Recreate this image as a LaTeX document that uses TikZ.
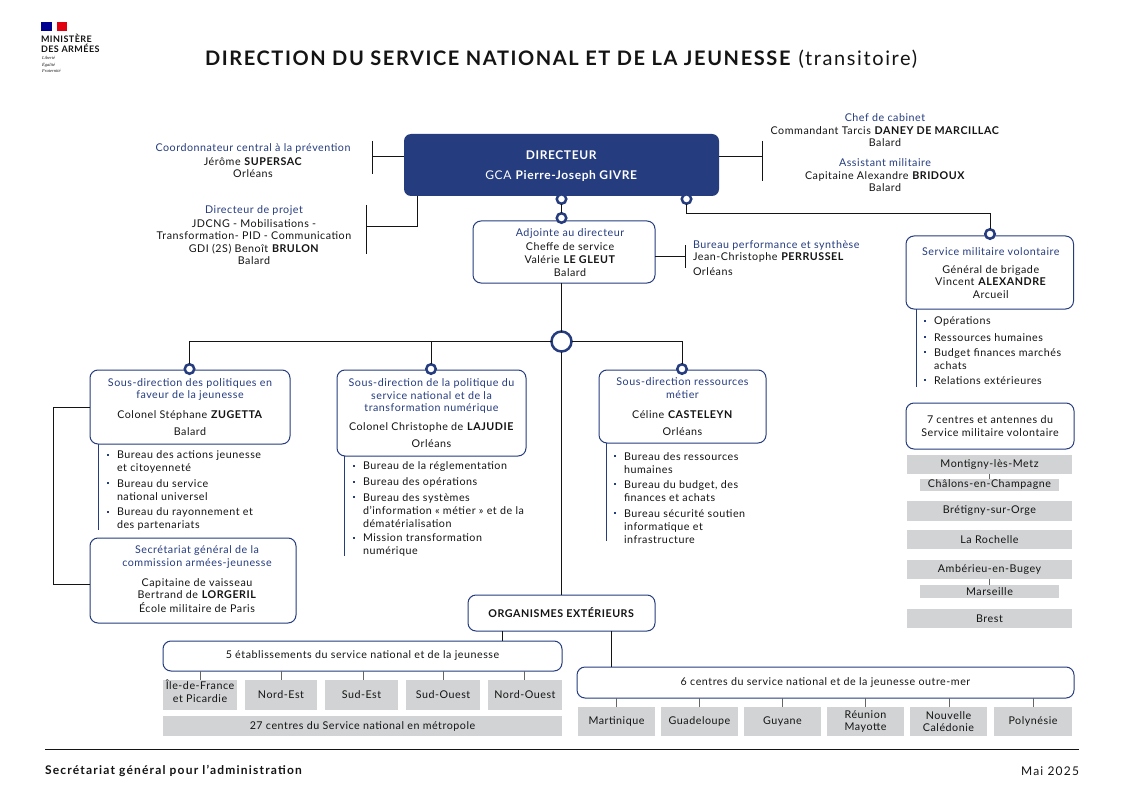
\documentclass[tikz,border=0pt]{standalone}
\usepackage{fontspec}
\setmainfont[LetterSpace=5]{Lato}
\newfontfamily\titlefont[LetterSpace=8]{Lato}
\newfontfamily\footfont[LetterSpace=10]{Lato}
\newfontfamily\logoserif{Liberation Serif}
\definecolor{mablue}{HTML}{253C7F}
\definecolor{magray}{HTML}{D1D3D4}
\definecolor{maink}{HTML}{141414}
\definecolor{flagblue}{HTML}{000091}
\definecolor{flagred}{HTML}{E1000F}
\newcommand{\bl}[1]{\textcolor{mablue}{#1}}
\newcommand{\bb}[1]{\textbf{#1}}
\newcommand{\tb}[1]{\begin{tabular}{@{}c@{}}#1\end{tabular}}
\newcommand{\bx}[7][]{\node[#2,minimum width={(#5-#3)*1pt},minimum height={(#6-#4)*1pt},#1] (#7) at ({(#3+#5)/2},{(#4+#6)/2})}
\newcommand{\bul}[5]{\fill[mablue] (#2-1,#3-1) rectangle (#2+1,#3+1);\node[itemtxt] (#1) at (#2+9,#4+0.7) {#5};}
\tikzset{
 base/.style={inner sep=0pt,outer sep=0pt,text=maink,align=center,font=\fontsize{10.7}{12.5}\selectfont},
 rbox/.style={base,draw=mablue,line width=1pt,rounded corners=8pt,fill=white},
 dirbox/.style={base,fill=mablue,rounded corners=7pt,text=white,font=\fontsize{12}{20}\selectfont},
 gbox/.style={base,fill=magray},
 txt/.style={base},
 itemtxt/.style={base,align=left,anchor=west,font=\fontsize{10.7}{13}\selectfont},
 conn/.style={draw=maink,line width=1pt},
 grayc/.style={draw=black!60,line width=1pt},
 side/.style={draw=mablue,line width=1pt},
 dot/.style={circle,draw=mablue,line width=2.5pt,fill=white,minimum size=9.5pt,inner sep=0pt,outer sep=0pt},
 bigdot/.style={circle,draw=mablue,line width=2.5pt,fill=white,minimum size=20pt,inner sep=0pt,outer sep=0pt},
}
\begin{document}
\begin{tikzpicture}[x=1pt,y=-1pt]
\useasboundingbox (0,0) rectangle (1123,794);
\fill[white] (0,0) rectangle (1123,794);
% logo
\fill[flagblue] (41,22) rectangle (52,31);
\fill[flagred] (57,22) rectangle (67,31);
\node[base,anchor=west,align=left,font=\fontsize{9}{10}\selectfont\bfseries] (logo) at (41,43) {MINISTÈRE\\DES ARMÉES};
\node[base,anchor=west,align=left,font=\fontsize{4.5}{6.5}\selectfont\logoserif\itshape] (devise) at (42,64.5) {Liberté\\Égalité\\Fraternité};
% title
\node[base,anchor=west,font=\fontsize{20}{24}\selectfont\titlefont] (title) at (205,59) {\bb{DIRECTION DU SERVICE NATIONAL ET DE LA JEUNESSE} (transitoire)};
% free texts
\node[txt] (coord) at (253,161) {\bl{Coordonnateur central à la prévention}\\[1pt]Jérôme \bb{SUPERSAC}\\Orléans};
\node[txt] (projet) at (254,235.5) {\bl{Directeur de projet}\\[1pt]JDCNG - Mobilisations -\\Transformation- PID - Communication\\GDI (2S) Benoît \bb{BRULON}\\Balard};
\node[txt] (chef) at (885,130.5) {\bl{Chef de cabinet}\\Commandant Tarcis \bb{DANEY DE MARCILLAC}\\Balard};
\node[txt] (assist) at (885,175.5) {\bl{Assistant militaire}\\Capitaine Alexandre \bb{BRIDOUX}\\Balard};
\node[txt,anchor=west,align=left] (perf) at (693,258) {\bl{Bureau performance et synthèse}\\Jean-Christophe \bb{PERRUSSEL}\\[2pt]Orléans};
% boxes
\bx{dirbox}{404}{134}{719}{196}{dir} {\tb{\rule{0pt}{16pt}\bb{DIRECTEUR}\\GCA \bb{Pierre-Joseph GIVRE}}};
\bx{rbox}{473}{221}{655}{283}{adj} {\tb{\rule{0pt}{13pt}\bl{Adjointe au directeur}\\[1pt]Cheffe de service\\[0.5pt]Valérie \bb{LE GLEUT}\\[0.5pt]Balard}\hspace*{-12pt}};
\bx{rbox}{906}{236}{1073.5}{309}{smv} {\tb{\rule{0pt}{12pt}\bl{Service militaire volontaire}\\[5.5pt]Général de brigade\\Vincent \bb{ALEXANDRE}\\Arcueil}\hspace*{-2pt}};
\bx{rbox}{90}{370}{290}{444}{sda} {\bl{Sous-direction des politiques en}\\\bl{faveur de la jeunesse}\\[7.5pt]Colonel Stéphane \bb{ZUGETTA}\\[4.5pt]Balard};
\bx{rbox}{337}{370}{526}{456}{sdb} {\bl{Sous-direction de la politique du}\\\bl{service national et de la}\\\bl{transformation numérique}\\[6pt]Colonel Christophe de \bb{LAJUDIE}\\[4.5pt]Orléans};
\bx{rbox}{599}{370}{766}{443}{sdc} {\bl{Sous-direction ressources}\\\bl{métier}\\[7.5pt]Céline \bb{CASTELEYN}\\[4.5pt]Orléans};
\bx{rbox}{90}{538}{296}{623}{sg} {\tb{\bl{Secrétariat général de la}\\\bl{commission armées-jeunesse}\\[7.5pt]Capitaine de vaisseau\\Bertrand de \bb{LORGERIL}\\École militaire de Paris}\hspace*{-8pt}};
\bx{rbox}{468}{595}{655}{631}{org} {\bb{ORGANISMES EXTÉRIEURS}};
\bx{rbox}{163}{641}{562}{671}{etab} {5 établissements du service national et de la jeunesse};
\bx{rbox}{577}{667}{1074}{698}{outre} {6 centres du service national et de la jeunesse outre-mer};
\bx{rbox}{906}{403}{1074}{449}{sept} {7 centres et antennes du\\Service militaire volontaire};
% gray boxes, right column
\bx{gbox}{907}{455}{1072}{474}{montigny} {Montigny-lès-Metz};
\bx{gbox}{920}{479}{1059}{491}{chalons} {Châlons-en-Champagne};
\bx{gbox}{907}{501}{1072}{521}{bretigny} {Brétigny-sur-Orge};
\bx{gbox}{907}{530}{1072}{549}{rochelle} {La Rochelle};
\bx{gbox}{907}{560}{1072}{579}{amberieu} {Ambérieu-en-Bugey};
\bx{gbox}{920}{585}{1059}{598}{marseille} {Marseille};
\bx{gbox}{907}{609}{1072}{628}{brest} {Brest};
% gray boxes, metropole
\bx{gbox}{163}{680}{237}{710}{idf} {\tb{Île-de-France\\et Picardie\\[4pt]}};
\bx{gbox}{245}{680}{317}{710}{ne} {Nord-Est};
\bx{gbox}{325}{680}{398}{710}{se} {Sud-Est};
\bx{gbox}{406}{680}{480}{710}{so} {Sud-Ouest};
\bx{gbox}{488}{680}{562}{710}{no} {Nord-Ouest};
\bx{gbox}{163}{716}{562}{736}{vingt} {27 centres du Service national en métropole};
% gray boxes, outre-mer
\bx{gbox}{578}{707}{655}{736}{mart} {Martinique};
\bx{gbox}{661}{707}{738}{736}{guad} {Guadeloupe};
\bx{gbox}{744}{707}{821}{736}{guy} {Guyane};
\bx{gbox}{827}{707}{904}{736}{reun} {Réunion\\Mayotte};
\bx{gbox}{910}{707}{987}{736}{nouv} {Nouvelle\\Calédonie};
\bx{gbox}{994}{707}{1072}{736}{poly} {Polynésie};
% bullet lists
\bul{a1}{108}{455}{461.5}{Bureau des actions jeunesse\\et citoyenneté}
\bul{a2}{108}{483}{489.5}{Bureau du service\\national universel}
\bul{a3}{108}{512}{518}{Bureau du rayonnement et\\des partenariats}
\bul{b1}{354}{466}{466}{Bureau de la réglementation}
\bul{b2}{354}{482}{482}{Bureau des opérations}
\bul{b3}{354}{497}{510}{Bureau des systèmes\\d’information « métier » et de la\\dématérialisation}
\bul{b4}{354}{538}{544.5}{Mission transformation\\numérique}
\bul{c1}{615}{456}{462.5}{Bureau des ressources\\humaines}
\bul{c2}{615}{484}{490.5}{Bureau du budget, des\\finances et achats}
\bul{c3}{615}{513}{525.5}{Bureau sécurité soutien\\informatique et\\infrastructure}
\bul{d1}{925}{321}{321}{Opérations}
\bul{d2}{925}{337}{337}{Ressources humaines}
\bul{d3}{925}{352}{358.5}{Budget finances marchés\\achats}
\bul{d4}{925}{380}{380}{Relations extérieures}
% side rules of the lists
\draw[side] (sda.south west -| 98,0) -- (98,530);
\draw[side] (sdb.south west -| 344,0) -- (344,556);
\draw[side] (sdc.south west -| 606,0) -- (606,541);
\draw[side] (smv.south west -| 916,0) -- (916,387);
% connectors with free ends
\coordinate (coordbarT) at (372,141);
\coordinate (coordbarB) at (372,174);
\draw[conn] (coordbarT) -- (coordbarB);
\draw[conn] (372,157) -- (dir.west |- 0,157);
\coordinate (projbarT) at (366,205);
\coordinate (projbarB) at (366,254);
\draw[conn] (projbarT) -- (projbarB);
\draw[conn] (366,227) -| (dir.south west -| 417,0);
\coordinate (chefbarT) at (762,141);
\coordinate (chefbarB) at (762,181);
\draw[conn] (chefbarT) -- (chefbarB);
\draw[conn] (dir.east |- 0,157) -- (762,157);
\coordinate (perfbarT) at (685.5,245);
\coordinate (perfbarB) at (685.5,268);
\draw[conn] (perfbarT) -- (perfbarB);
\draw[conn] (adj.east |- 0,256) -- (685.5,256);
% hierarchy
\node[dot] (d1) at (561.5,199) {};
\node[dot] (d2) at (561.5,218) {};
\node[dot] (d3) at (686.5,199) {};
\node[dot] (d4) at (990,234) {};
\node[dot] (d5) at (189.5,369) {};
\node[dot] (d6) at (431,369) {};
\node[dot] (d7) at (682,369) {};
\node[bigdot] (hub) at (561.5,341.5) {};
\draw[conn] (d1) -- (d2);
\draw[conn] (d3.south) |- (990,214) -- (d4.north);
\draw[conn] (561.5,283) -- (hub.north);
\draw[conn] (hub.west) -- (189.5,341.5) -- (d5.north);
\draw[conn] (hub.east) -- (682,341.5) -- (d7.north);
\draw[conn] (431,341.5) -- (d6.north);
\draw[conn] (hub.south) -- (org.north -| hub.south);
\draw[conn] (sda.west |- 0,407) -- (53,407) -- (53,584) -- (sg.west |- 0,584);
\draw[conn] (502,631) -- (502,641);
\draw[conn] (611.5,631) -- (611.5,667);
% short links
\draw[grayc] (montigny.south) -- (chalons.north);
\draw[grayc] (amberieu.south) -- (marseille.north);
\foreach \xx in {200,281,363,443,524}{\draw[grayc] (\xx,671) -- (\xx,680);}
\foreach \xx in {616,699,782,865,949,1033}{\draw[grayc] (\xx,698) -- (\xx,707);}
% footer
\coordinate (footL) at (45,749);
\coordinate (footR) at (1079,749);
\draw[conn] (footL) -- (footR);
\node[base,anchor=west,font=\fontsize{12}{13}\selectfont\footfont\bfseries] (sga) at (45,771) {Secrétariat général pour l’administration};
\node[base,anchor=east,font=\fontsize{12}{13}\selectfont\footfont] (mai) at (1079,771) {Mai 2025};
\end{tikzpicture}
\end{document}
